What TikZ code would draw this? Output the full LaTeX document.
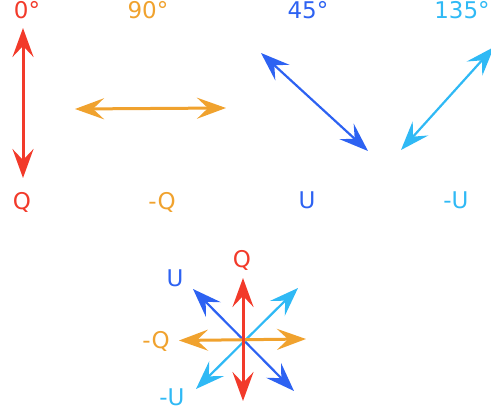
\documentclass[tikz,border=0pt]{standalone}
\usepackage{fontspec}
\setmainfont{DejaVu Sans}
\usetikzlibrary{positioning,arrows.meta}
\definecolor{qred}{HTML}{F23A2A}
\definecolor{qorange}{HTML}{F0A22E}
\definecolor{ublue}{HTML}{2D62F2}
\definecolor{ulight}{HTML}{2FB9F5}

\begin{document}
\begin{tikzpicture}[
  x=1pt, y=-1pt,
  lbl/.style={inner sep=0pt, anchor=base, font=\fontsize{23}{26}\selectfont},
  pol/.style={<->, line width=3pt},
  thinpol/.style={<->, line width=2.2pt},
  >={Stealth[length=29pt, width=21pt, inset=11pt]}
]
  \useasboundingbox (0,0) rectangle (491,412);

  % top row: angle labels
  \node[lbl, text=qred] (a0) at (27,19) {0°};
  \node[lbl, text=qorange] (a90) at (148,19) {90°};
  \node[lbl, text=ublue] (a45) at (308,19) {45°};
  \node[lbl, text=ulight] (a135) at (462,19) {135°};

  % top row: arrows
  \coordinate (r1) at (23,28);
  \coordinate (r2) at (23,178);
  \coordinate (o1) at (75,109);
  \coordinate (o2) at (226,108);
  \coordinate (b1) at (261,53);
  \coordinate (b2) at (368,151);
  \coordinate (c1) at (401,150);
  \coordinate (c2) at (494,47);
  \draw[pol, qred] (r1) -- (r2);
  \draw[pol, qorange] (o1) -- (o2);
  \draw[thinpol, ublue] (b1) -- (b2);
  \draw[thinpol, ulight] (c1) -- (c2);

  % top row: Stokes labels
  \node[lbl, text=qred] (q) at (22,210) {Q};
  \node[lbl, text=qorange] (mq) at (162,210) {-Q};
  \node[lbl, text=ublue] (u) at (307,209) {U};
  \node[lbl, text=ulight] (mu) at (456,209) {-U};

  % bottom: combined star
  \coordinate (ctr) at (243,340);
  \coordinate (sq1) at (243,278);
  \coordinate (sq2) at (243,401);
  \coordinate (so1) at (179,340.5);
  \coordinate (so2) at (306,339);
  \coordinate (sb1) at (193,289);
  \coordinate (sb2) at (294,391);
  \coordinate (sc1) at (298,288);
  \coordinate (sc2) at (196,389);
  \draw[thinpol, ublue] (sb1) -- (sb2);
  \draw[thinpol, ulight] (sc1) -- (sc2);
  \draw[pol, qorange] (so1) -- (so2);
  \draw[pol, qred] (sq1) -- (sq2);

  \node[lbl, text=qred] (sq) at (242,268) {Q};
  \node[lbl, text=ublue] (su) at (175,287) {U};
  \node[lbl, text=qorange] (smq) at (156,348) {-Q};
  \node[lbl, text=ulight] (smu) at (172,405) {-U};
\end{tikzpicture}
\end{document}
